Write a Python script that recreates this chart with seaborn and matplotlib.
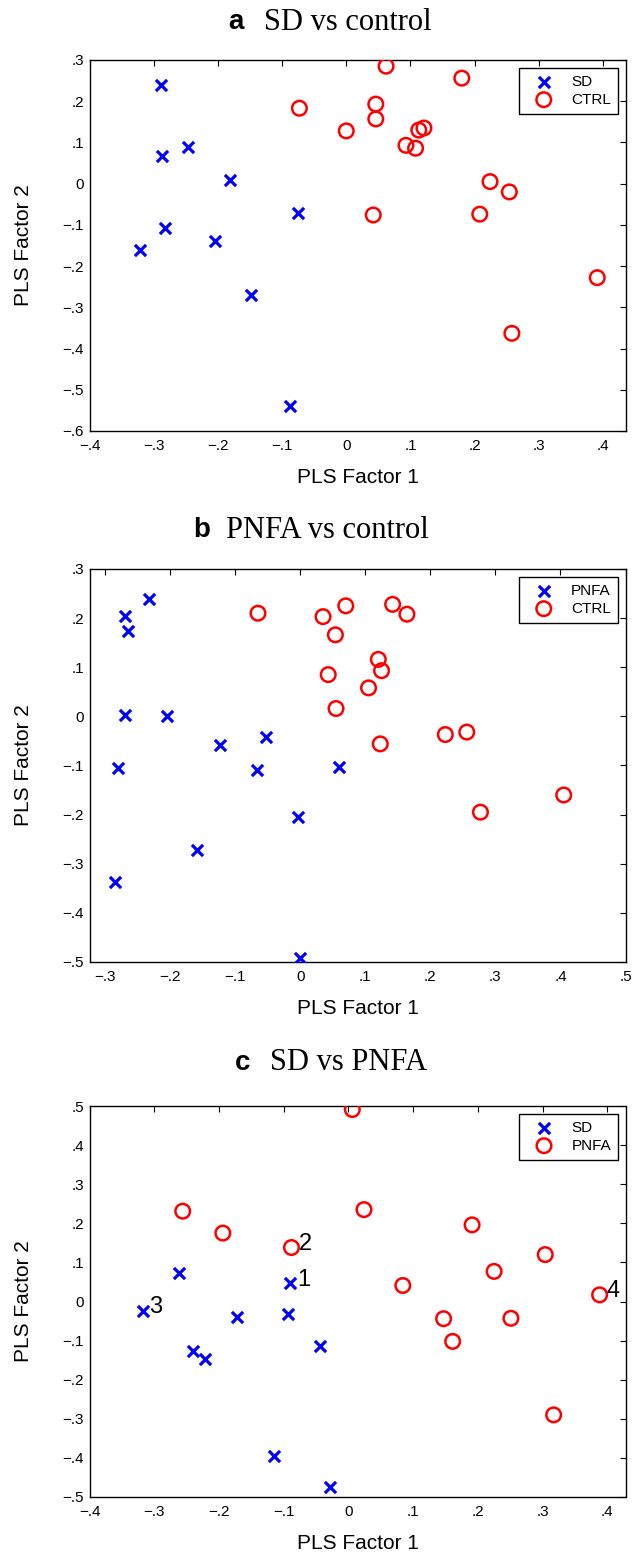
import matplotlib
matplotlib.use("Agg")
import matplotlib.pyplot as plt
import seaborn as sns
from matplotlib.ticker import MultipleLocator, FuncFormatter

# panel a: SD vs control
a_sd_x = [-0.289, -0.287, -0.247, -0.181, -0.075, -0.283, -0.321, -0.205, -0.148, -0.087]
a_sd_y = [0.239, 0.067, 0.088, 0.009, -0.072, -0.108, -0.161, -0.138, -0.271, -0.540]
a_ctrl_x = [0.062, 0.180, -0.073, 0.046, 0.046, 0.000, 0.121, 0.113, 0.093, 0.108,
            0.224, 0.254, 0.042, 0.208, 0.391, 0.258]
a_ctrl_y = [0.285, 0.256, 0.183, 0.193, 0.157, 0.128, 0.135, 0.130, 0.093, 0.086,
            0.005, -0.020, -0.076, -0.074, -0.228, -0.363]

# panel b: PNFA vs control
b_pnfa_x = [-0.232, -0.269, -0.265, -0.269, -0.205, -0.124, -0.052, -0.280, -0.067,
            0.060, -0.004, -0.158, -0.285, 0.000]
b_pnfa_y = [0.238, 0.204, 0.174, 0.003, 0.000, -0.059, -0.043, -0.105, -0.110,
            -0.103, -0.205, -0.272, -0.338, -0.491]
b_ctrl_x = [-0.065, 0.035, 0.070, 0.142, 0.164, 0.054, 0.120, 0.125, 0.043, 0.105,
            0.055, 0.123, 0.223, 0.256, 0.277, 0.405]
b_ctrl_y = [0.210, 0.203, 0.225, 0.228, 0.208, 0.166, 0.116, 0.093, 0.085, 0.058,
            0.016, -0.056, -0.037, -0.032, -0.195, -0.160]

# panel c: SD vs PNFA
c_sd_x = [-0.261, -0.090, -0.318, -0.172, -0.093, -0.044, -0.240, -0.221, -0.115, -0.029]
c_sd_y = [0.073, 0.047, -0.024, -0.039, -0.031, -0.114, -0.127, -0.147, -0.395, -0.475]
c_sd_lab = ["", "1", "3", "", "", "", "", "", "", ""]
c_pnfa_x = [0.006, -0.256, -0.194, 0.024, -0.088, 0.191, 0.304, 0.225, 0.084, 0.388,
            0.147, 0.251, 0.161, 0.317]
c_pnfa_y = [0.491, 0.231, 0.175, 0.235, 0.138, 0.196, 0.120, 0.077, 0.041, 0.017,
            -0.044, -0.043, -0.102, -0.290]
c_pnfa_lab = ["", "", "", "", "2", "", "", "", "", "4", "", "", "", ""]

sns.set_style("white")
plt.rcParams["font.family"] = ["Liberation Sans", "DejaVu Sans"]
plt.rcParams["axes.linewidth"] = 1.0
plt.rcParams["text.color"] = "black"
plt.rcParams["axes.labelcolor"] = "black"
plt.rcParams["xtick.color"] = "black"
plt.rcParams["ytick.color"] = "black"

W, H = 637, 1553
fig = plt.figure(figsize=(W / 100, H / 100), dpi=100)


def fmt(v, pos):
    if abs(v) < 1e-9:
        return "0"
    s = f"{v:.1f}".replace("0.", ".")
    return s.replace("-", "\u2212")


def make_axes(top, bottom):
    ax = fig.add_axes([89.5 / W, 1 - bottom / H, 536 / W, (bottom - top) / H])
    return ax


def panel(ax, top, bottom, xs1, ys1, lab1, xs2, ys2, lab2, xlim, ylim):
    sns.scatterplot(x=xs1, y=ys1, ax=ax, marker="x", color="blue", s=65,
                    linewidth=2.3, label=lab1, zorder=3)
    sns.scatterplot(x=xs2, y=ys2, ax=ax, marker="o", color="red", facecolor="none",
                    edgecolor="red", s=110, linewidth=1.8, label=lab2, zorder=3)
    ax.set_xlim(*xlim)
    ax.set_ylim(*ylim)
    ax.xaxis.set_major_locator(MultipleLocator(0.1))
    ax.yaxis.set_major_locator(MultipleLocator(0.1))
    ax.xaxis.set_major_formatter(FuncFormatter(fmt))
    ax.yaxis.set_major_formatter(FuncFormatter(fmt))
    ax.tick_params(direction="in", top=True, right=True, length=4, width=0.8,
                   labelsize=11, colors="black", pad=4)
    ax.tick_params(axis="x", pad=6)
    for sp in ax.spines.values():
        sp.set_color("black")
        sp.set_linewidth(1.0)
    hpx = bottom - top
    ax.set_xlabel("PLS Factor 1", fontsize=15)
    ax.set_ylabel("PLS Factor 2", fontsize=15)
    ax.xaxis.set_label_coords(0.5, -37 / hpx)
    ax.yaxis.set_label_coords(-0.105, 0.5)
    ax.xaxis.label.set_va("top")
    leg = ax.legend(loc="upper right", bbox_to_anchor=((618 - 89.5) / 536, 1 - 8 / hpx),
                    borderaxespad=0, fontsize=11, frameon=True, fancybox=False,
                    edgecolor="black", framealpha=1, handlelength=2.4,
                    handletextpad=0.6, borderpad=0.45, labelspacing=0.25)
    leg.get_frame().set_linewidth(1.0)


def title(letter, text, x_letter, x_text, y):
    fig.text(x_letter / W, 1 - y / H, letter, fontsize=20, fontweight="bold",
             family=["Liberation Sans"], ha="left", va="center", color="black")
    fig.text(x_text / W, 1 - y / H, text, fontsize=22,
             family=["Liberation Serif"], ha="left", va="center", color="black")


ax_a = make_axes(60, 431)
panel(ax_a, 60, 431, a_sd_x, a_sd_y, "SD", a_ctrl_x, a_ctrl_y, "CTRL",
      (-0.4, 0.435), (-0.6, 0.3))
title("a", "SD vs control", 228, 264, 22)

ax_b = make_axes(569, 962)
panel(ax_b, 569, 962, b_pnfa_x, b_pnfa_y, "PNFA", b_ctrl_x, b_ctrl_y, "CTRL",
      (-0.324, 0.5), (-0.5, 0.3))
title("b", "PNFA vs control", 193, 226, 530)

ax_c = make_axes(1106, 1497)
panel(ax_c, 1106, 1497, c_sd_x, c_sd_y, "SD", c_pnfa_x, c_pnfa_y, "PNFA",
      (-0.4, 0.428), (-0.5, 0.5))
title("c", "SD vs PNFA", 235, 270, 1063)

for xs, ys, labs in [(c_sd_x, c_sd_y, c_sd_lab), (c_pnfa_x, c_pnfa_y, c_pnfa_lab)]:
    for x, y, t in zip(xs, ys, labs):
        if t:
            ax_c.annotate(t, (x, y), xytext=(5, 2.5), textcoords="offset points",
                          fontsize=17, ha="left", va="center", color="black")

fig.savefig("out.png", dpi=100, facecolor="white")
